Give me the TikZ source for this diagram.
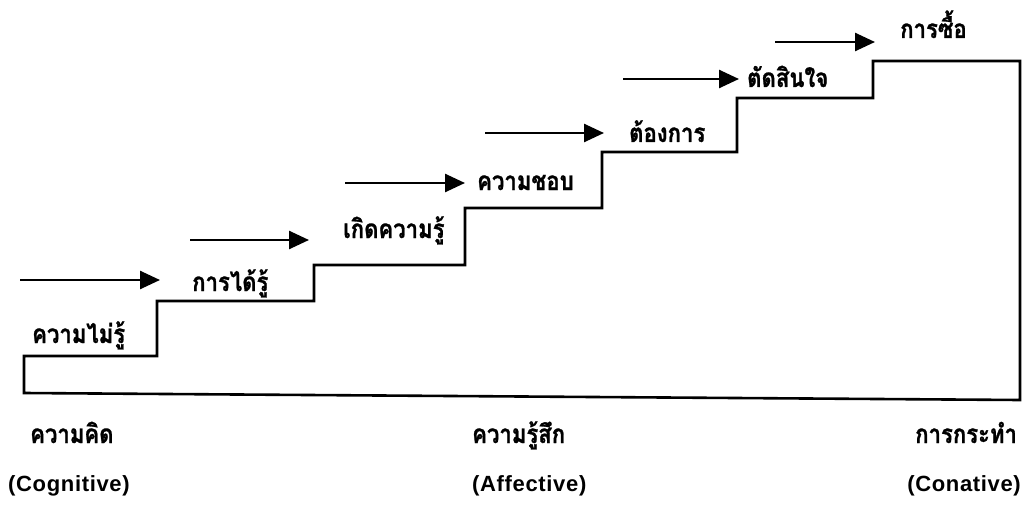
\documentclass[tikz,border=0pt]{standalone}
\usepackage{fontspec}
\setmainfont{Liberation Sans}
\newfontfamily\thaifont[Script=Thai,FakeStretch=0.85,FakeBold=1]{Loma}
\newfontfamily\latfont[LetterSpace=3]{Liberation Sans}
\usetikzlibrary{arrows.meta}
\tikzset{
  stair/.style={line width=2.6pt, line join=miter},
  flow/.style={line width=2.6pt, -{Triangle[length=20pt,width=18pt]}},
  th/.style={anchor=base west, inner sep=0pt, font=\thaifont\bfseries\fontsize{26}{28}\selectfont},
  en/.style={anchor=base west, inner sep=0pt, font=\latfont\bfseries\fontsize{22}{26}\selectfont},
}
\begin{document}
\begin{tikzpicture}[x=1pt,y=-1pt]
\useasboundingbox (0,0) rectangle (1025,516);
% staircase outline
\draw[stair] (24,356) -- (157,356) -- (157,301) -- (314,301) -- (314,265)
  -- (465,265) -- (465,208) -- (602,208) -- (602,152) -- (737,152)
  -- (737,98) -- (873,98) -- (873,61) -- (1020,61) -- (1020,400)
  -- (24,393) -- cycle;
% step labels
\node[th] (l1) at (32,343) {ความไม่รู้};
\node[th] (l2) at (192,291) {การได้รู้};
\node[th] (l3) at (343,238) {เกิดความรู้};
\node[th] (l4) at (477,190) {ความชอบ};
\node[th] (l5) at (629,142) {ต้องการ};
\node[th] (l6) at (747,87) {ตัดสินใจ};
\node[th] (l7) at (900,38) {การซื้อ};
% arrows
\coordinate (a1s) at (20,280);  \coordinate (a1e) at (160,280);
\coordinate (a2s) at (190,240); \coordinate (a2e) at (309,240);
\coordinate (a3s) at (345,183); \coordinate (a3e) at (465,183);
\coordinate (a4s) at (485,133); \coordinate (a4e) at (604,133);
\coordinate (a5s) at (623,79);  \coordinate (a5e) at (739,79);
\coordinate (a6s) at (775,42);  \coordinate (a6e) at (875,42);
\draw[flow] (a1s) -- (a1e);
\draw[flow] (a2s) -- (a2e);
\draw[flow] (a3s) -- (a3e);
\draw[flow] (a4s) -- (a4e);
\draw[flow] (a5s) -- (a5e);
\draw[flow] (a6s) -- (a6e);
% bottom labels
\node[th] (c1) at (30,443) {ความคิด};
\node[en] (c1e) at (8,491) {(Cognitive)};
\node[th] (c2) at (472,443) {ความรู้สึก};
\node[en] (c2e) at (472,491) {(Affective)};
\node[th] (c3) at (915,443) {การกระทำ};
\node[en, anchor=base east] (c3e) at (1021,491) {(Conative)};
\end{tikzpicture}
\end{document}
